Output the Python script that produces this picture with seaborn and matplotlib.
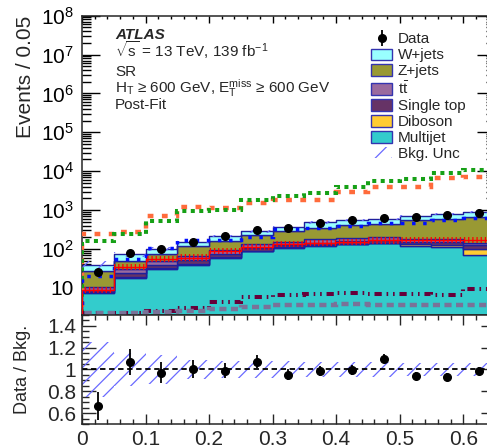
import numpy as np
import pandas as pd
import matplotlib
matplotlib.use("Agg")
import matplotlib.pyplot as plt
import seaborn as sns
from matplotlib.patches import Patch
from matplotlib.ticker import (MultipleLocator, LogLocator, FixedLocator, FuncFormatter,
                               NullFormatter)

# ---------------------------------------------------------------- data
bin_edges = [0.0, 0.05, 0.10, 0.15, 0.20, 0.25, 0.30, 0.35, 0.40, 0.45, 0.50, 0.55, 0.60, 0.65]
bin_centers = [0.025, 0.075, 0.125, 0.175, 0.225, 0.275, 0.325, 0.375, 0.425, 0.475, 0.525, 0.575, 0.625]

# background processes (events per bin)
w_jets = [12, 24, 25, 36, 57, 58, 75, 128, 128, 130, 162, 182, 199]
z_jets = [16.7, 19.4, 28, 53, 66, 92, 133, 176, 224, 242, 355, 422, 530]
ttbar = [1.5, 6, 9.5, 14.5, 18, 24, 28, 33, 37, 38, 32, 30, 17]
single_top = [1.0, 5, 7, 10, 13, 16, 18, 20, 22, 24, 22, 24, 25]
diboson = [0.3, 0.6, 1.5, 2.5, 3, 3, 4, 5, 5, 6, 12, 15, 28]
multijet = [7.5, 18, 30, 38, 58, 88, 105, 120, 132, 140, 119, 109, 70]

# relative background uncertainty per bin
bkg_unc = [0.25, 0.15, 0.13, 0.09, 0.08, 0.08, 0.08, 0.07, 0.07, 0.07, 0.06, 0.06, 0.06]

# observed data
data = [26, 78, 98, 155, 213, 301, 345, 475, 545, 638, 660, 730, 857]
data_err = [5.1, 8.8, 9.9, 12.4, 14.6, 17.3, 18.6, 21.8, 23.3, 25.3, 25.7, 27.0, 29.3]

# signal hypotheses overlaid as lines
sig_orange = [238, 280, 700, 1230, 1150, 1500, 1800, 1850, 2950, 4000, 4000, 6600, 7100]
sig_green = [160, 247, 520, 935, 975, 1800, 2300, 2800, 4000, 5600, 6300, 8900, 10700]
sig_blue = [20, 54, 104, 167, 165, 208, 325, 345, 385, 474, 474, 560, 620]
sig_red = [8.9, 35, 55, 60, 89, 115, 135, 140, 150, 165, 170, 170, 170]
sig_maroon = [2.2, 2.3, 2.5, 3.0, 4.4, 5.8, 6.6, 6.8, 7.2, 7.0, 6.8, 6.6, 9.2]
sig_grey = [2.3, 2.3, 2.4, 2.5, 2.8, 3.2, 3.6, 3.7, 3.8, 3.7, 3.7, 3.6, 3.7]

# axis ticks
count_ticks = [1e1, 1e2, 1e3, 1e4, 1e5, 1e6, 1e7, 1e8]
ratio_ticks = [0.6, 0.8, 1.0, 1.2, 1.4]
x_ticks = [0.0, 0.1, 0.2, 0.3, 0.4, 0.5, 0.6]

process_names = ["W+jets", "Z+jets", r"$\mathrm{t\bar{t}}$", "Single top", "Diboson", "Multijet"]
process_values = [w_jets, z_jets, ttbar, single_top, diboson, multijet]
process_colors = ["#99ffff", "#999933", "#9a6a9e", "#663366", "#ffcc33", "#33cccc"]

# ---------------------------------------------------------------- style
sns.set_theme(style="ticks")
plt.rcParams["font.family"] = ["Liberation Sans", "DejaVu Sans"]
plt.rcParams["mathtext.fontset"] = "custom"
plt.rcParams["mathtext.rm"] = "Liberation Sans"
plt.rcParams["mathtext.it"] = "Liberation Sans:italic"
plt.rcParams["mathtext.bf"] = "Liberation Sans:bold"
plt.rcParams["hatch.linewidth"] = 0.9
plt.rcParams["axes.linewidth"] = 1.1

edge_navy = "#1f1f9c"
hatch_col = "#6a6aff"

fig = plt.figure(figsize=(4.87, 4.48), dpi=100)
ax = fig.add_axes([0.1684, 0.2969, 0.8480, 0.6681])
rax = fig.add_axes([0.1684, 0.0536, 0.8480, 0.2433], sharex=ax)

# ---------------------------------------------------------------- stacked backgrounds
frames = [pd.DataFrame({"x": bin_centers, "w": vals, "process": name})
          for name, vals in zip(process_names, process_values)]
df = pd.concat(frames, ignore_index=True)

ax.set_yscale("log")
sns.histplot(data=df, x="x", weights="w", hue="process", hue_order=process_names,
             bins=bin_edges, multiple="stack", element="step",
             palette=dict(zip(process_names, process_colors)),
             edgecolor=edge_navy, linewidth=1.0, alpha=1.0, legend=False, ax=ax, zorder=1)

total = np.sum(np.array(process_values, dtype=float), axis=0)
unc = np.array(bkg_unc)
ax.stairs(total * (1 + unc), bin_edges, baseline=total * (1 - unc), fill=True,
          hatch="//", facecolor="none", edgecolor=hatch_col, linewidth=0, zorder=3)

# ---------------------------------------------------------------- signal lines
ax.stairs(sig_orange, bin_edges, color="#ff6b3b", linewidth=3.2,
          linestyle=(0, (1.3, 1.9)), zorder=4)
ax.stairs(sig_green, bin_edges, color="#16a016", linewidth=2.9,
          linestyle=(0, (1.0, 1.1)), zorder=4)
ax.stairs(sig_blue, bin_edges, color="#0010ff", linewidth=2.5,
          linestyle=(0, (1.0, 2.2)), zorder=4)
red = np.array(sig_red, dtype=float)
ax.stairs(red * 1.2, bin_edges, baseline=red / 1.2, fill=True, hatch="||||",
          facecolor="none", edgecolor="#ff0000", linewidth=0, zorder=4)
ax.stairs(sig_red, bin_edges, color="#ff0000", linewidth=1.0, zorder=4)
ax.stairs(sig_maroon, bin_edges, color="#66003a", linewidth=2.9,
          linestyle=(0, (1.8, 1.2, 0.4, 1.2, 0.4, 1.2)), zorder=4)
ax.stairs(sig_grey, bin_edges, color="#7a7298", linewidth=3.2,
          linestyle=(0, (1.6, 1.0)), zorder=4)

# ---------------------------------------------------------------- data
data_handle = ax.errorbar(bin_centers, data, yerr=data_err, fmt="o", color="black",
                          ms=5.5, elinewidth=1.3, capsize=0, zorder=10)

ax.set_xlim(0, 0.65)
ax.set_ylim(2, 1e8)


def log_label(v, pos):
    n = int(round(np.log10(v)))
    return "10" if n == 1 else r"$10^{%d}$" % n


ax.yaxis.set_major_locator(FixedLocator(count_ticks))
ax.yaxis.set_minor_locator(LogLocator(base=10, subs=np.arange(2, 10), numticks=20))
ax.yaxis.set_major_formatter(FuncFormatter(log_label))
ax.yaxis.set_minor_formatter(NullFormatter())
ax.xaxis.set_major_locator(FixedLocator(x_ticks))
ax.xaxis.set_minor_locator(MultipleLocator(0.02))
ax.tick_params(which="both", direction="in", top=True, right=True, labelbottom=False,
               width=1.0, colors="black")
ax.tick_params(axis="y", which="major", length=13, labelsize=15, pad=6)
ax.tick_params(axis="y", which="minor", length=6.5)
ax.tick_params(axis="x", which="major", length=5)
ax.tick_params(axis="x", which="minor", length=2.5)
ax.set_xlabel("")
ax.set_ylabel("Events / 0.05", fontsize=15, loc="top")
ax.yaxis.set_label_coords(-0.115, 1.0)

# labels
tx = 0.08
ax.text(tx, 0.922, "ATLAS", transform=ax.transAxes, fontsize=11,
        fontweight="bold", fontstyle="italic", va="baseline")
ax.text(tx, 0.861, r"$\sqrt{\mathrm{s}}$ = 13 TeV, 139 fb$^{\mathrm{-1}}$",
        transform=ax.transAxes, fontsize=11, va="baseline")
ax.text(tx, 0.7985, "SR", transform=ax.transAxes, fontsize=11, va="baseline")
ax.text(tx, 0.7427,
        r"H$_{\mathrm{T}}$ ≥ 600 GeV, E$_{\mathrm{T}}^{\mathrm{miss}}$ ≥ 600 GeV",
        transform=ax.transAxes, fontsize=11, va="baseline")
ax.text(tx, 0.6873, "Post-Fit", transform=ax.transAxes, fontsize=11, va="baseline")

# legend
handles = [data_handle]
labels = ["Data"]
for name, col in zip(process_names, process_colors):
    handles.append(Patch(facecolor=col, edgecolor="#3434b0", linewidth=1.0))
    labels.append(name)
handles.append(Patch(facecolor="none", edgecolor=hatch_col, hatch="//", linewidth=0))
labels.append("Bkg. Unc")
ax.legend(handles, labels, loc="upper left", bbox_to_anchor=(0.70, 0.944),
          frameon=False, fontsize=11, handlelength=1.4, handleheight=0.75,
          handletextpad=0.35, labelspacing=0.13, borderaxespad=0, borderpad=0)

# ---------------------------------------------------------------- ratio panel
ratio = np.array(data) / total
ratio_err = np.array(data_err) / total
rax.stairs(1 + unc, bin_edges, baseline=1 - unc, fill=True, hatch="//",
           facecolor="none", edgecolor=hatch_col, linewidth=0, zorder=1)
rax.axhline(1.0, color="black", linestyle=(0, (3, 2)), linewidth=1.3, zorder=2)
rax.errorbar(bin_centers, ratio, yerr=ratio_err, fmt="o", color="black",
             ms=5.5, elinewidth=1.3, capsize=0, zorder=10)
rax.set_ylim(0.5, 1.5)
rax.set_xlim(0, 0.65)
rax.yaxis.set_major_locator(FixedLocator(ratio_ticks))
rax.yaxis.set_minor_locator(MultipleLocator(0.05))
rax.yaxis.set_major_formatter(FuncFormatter(lambda v, p: "%g" % round(v, 2)))
rax.xaxis.set_major_formatter(FuncFormatter(lambda v, p: "%g" % round(v, 2)))
rax.tick_params(which="both", direction="in", top=True, right=True, width=1.0)
rax.tick_params(axis="y", which="major", length=10, labelsize=15, pad=4)
rax.tick_params(axis="y", which="minor", length=5)
rax.tick_params(axis="x", which="major", length=7, labelsize=15, pad=4)
rax.tick_params(axis="x", which="minor", length=3.5)
rax.set_xlabel("")
rax.set_ylabel("Data / Bkg.", fontsize=13)
rax.yaxis.set_label_coords(-0.124, 0.5)

fig.savefig("out.png", dpi=100)
